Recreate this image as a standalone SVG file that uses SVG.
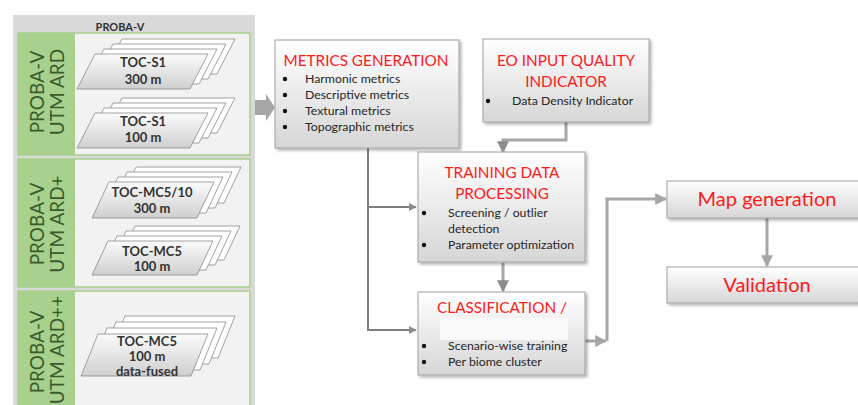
<svg xmlns="http://www.w3.org/2000/svg" width="858" height="405" viewBox="0 0 858 405">
<defs>
  <linearGradient id="gBox" x1="0" y1="0" x2="0" y2="1">
    <stop offset="0" stop-color="#ffffff"/>
    <stop offset="1" stop-color="#d6d6d6"/>
  </linearGradient>
  <linearGradient id="gPar" x1="0" y1="0" x2="0" y2="1">
    <stop offset="0" stop-color="#fbfbfb"/>
    <stop offset="1" stop-color="#cfcfcf"/>
  </linearGradient>
  <filter id="sh" x="-10%" y="-10%" width="125%" height="130%">
    <feDropShadow dx="2" dy="2" stdDeviation="1.5" flood-color="#000" flood-opacity="0.3"/>
  </filter>
  <marker id="ah" viewBox="0 0 10 10" refX="9" refY="5" markerWidth="4" markerHeight="4" orient="auto" markerUnits="strokeWidth">
    <path d="M0,0 L10,5 L0,10 z" fill="#8c8c8c"/>
  </marker>
  <marker id="ahl" viewBox="0 0 10 10" refX="9" refY="5" markerWidth="4" markerHeight="4" orient="auto" markerUnits="strokeWidth">
    <path d="M0,0 L10,5 L0,10 z" fill="#a6a6a6"/>
  </marker>
</defs>
<style>
  .box { fill: url(#gBox); stroke: #a0a0a0; stroke-width: 1; filter: url(#sh); }
  .title { font-family: Lato, "Liberation Sans", sans-serif; font-size: 15.3px; fill: #ff1a1a; text-anchor: middle; }
  .big { font-family: Lato, "Liberation Sans", sans-serif; font-size: 20px; fill: #ff1a1a; text-anchor: middle; }
  .bul { font-family: Lato, "Liberation Sans", sans-serif; font-size: 12.3px; fill: #262626; }
  .dot { fill: #111; }
  .par { fill: #ffffff; stroke: #8a8a8a; stroke-width: 0.8; }
  .parf { fill: url(#gPar); stroke: #8a8a8a; stroke-width: 0.8; }
  .pt { font-family: Lato, "Liberation Sans", sans-serif; font-size: 13px; font-weight: bold; fill: #333333; text-anchor: middle; }
  .side { font-family: Lato, "Liberation Sans", sans-serif; font-size: 19px; fill: #3a5a2c; text-anchor: middle; }
  .con { fill: none; stroke: #a6a6a6; stroke-width: 3; }
  .cond { fill: none; stroke: #7f7f7f; stroke-width: 2; }
</style>

<!-- Left panel -->
<g id="proba-v-panel">
  <rect x="13" y="15" width="242" height="392" fill="#d9d9d9"/>
  <text x="120" y="31" font-family="Lato, 'Liberation Sans', sans-serif" font-size="11" font-weight="bold" fill="#333" text-anchor="middle">PROBA-V</text>
</g>

<g id="section-ard">
  <rect x="18" y="33" width="232" height="122" fill="#f2f2f2" stroke="#a9d18e" stroke-width="1.5"/>
  <rect x="18" y="33" width="57" height="122" fill="#a9d18e"/>
  <text class="side" transform="translate(44,92) rotate(-90)">PROBA-V</text>
  <text class="side" transform="translate(64,92) rotate(-90)">UTM ARD</text>
  <g id="toc-s1-300">
    <path class="par" d="M122,39 h113 l-18,35 h-113 z"/>
    <path class="par" d="M113,44 h113 l-18,35 h-113 z"/>
    <path class="par" d="M104,49 h113 l-18,35 h-113 z"/>
    <path class="parf" d="M95,54 h113 l-18,35 h-113 z"/>
    <text class="pt" x="143" y="67">TOC-S1</text>
    <text class="pt" x="143" y="84">300 m</text>
  </g>
  <g id="toc-s1-100">
    <path class="par" d="M122,98 h113 l-18,35 h-113 z"/>
    <path class="par" d="M113,103 h113 l-18,35 h-113 z"/>
    <path class="par" d="M104,108 h113 l-18,35 h-113 z"/>
    <path class="parf" d="M95,113 h113 l-18,35 h-113 z"/>
    <text class="pt" x="143" y="126">TOC-S1</text>
    <text class="pt" x="143" y="142">100 m</text>
  </g>
</g>

<g id="section-ardplus">
  <rect x="18" y="159" width="232" height="128" fill="#f2f2f2" stroke="#a9d18e" stroke-width="1.5"/>
  <rect x="18" y="159" width="57" height="128" fill="#a9d18e"/>
  <text class="side" transform="translate(44,224) rotate(-90)">PROBA-V</text>
  <text class="side" transform="translate(64,224) rotate(-90)">UTM ARD+</text>
  <g id="toc-mc5-10-300">
    <path class="par" d="M136,167 h105 l-17,36 h-105 z"/>
    <path class="par" d="M127,172 h105 l-17,36 h-105 z"/>
    <path class="par" d="M118,177 h105 l-17,36 h-105 z"/>
    <path class="parf" d="M109,182 h105 l-17,36 h-105 z"/>
    <text class="pt" x="152" y="197">TOC-MC5/10</text>
    <text class="pt" x="152" y="213">300 m</text>
  </g>
  <g id="toc-mc5-100">
    <path class="par" d="M135,226 h105 l-16,34 h-105 z"/>
    <path class="par" d="M126,231 h105 l-16,34 h-105 z"/>
    <path class="par" d="M117,236 h105 l-16,34 h-105 z"/>
    <path class="parf" d="M108,241 h105 l-16,34 h-105 z"/>
    <text class="pt" x="152" y="256">TOC-MC5</text>
    <text class="pt" x="152" y="271">100 m</text>
  </g>
</g>

<g id="section-ardplusplus">
  <rect x="18" y="291" width="232" height="120" fill="#f2f2f2" stroke="#a9d18e" stroke-width="1.5"/>
  <rect x="18" y="291" width="57" height="120" fill="#a9d18e"/>
  <text class="side" transform="translate(44,352) rotate(-90)">PROBA-V</text>
  <text class="side" transform="translate(64,350) rotate(-90)">UTM ARD++</text>
  <g id="toc-mc5-fused">
    <path class="par" d="M125,316 h110 l-17,42 h-110 z"/>
    <path class="par" d="M116,322 h110 l-17,42 h-110 z"/>
    <path class="par" d="M107,328 h110 l-17,42 h-110 z"/>
    <path class="parf" d="M98,334 h110 l-17,42 h-110 z"/>
    <text class="pt" x="147" y="346">TOC-MC5</text>
    <text class="pt" x="147" y="361">100 m</text>
    <text class="pt" x="147" y="376">data-fused</text>
  </g>
</g>

<!-- Connectors -->
<g id="connectors">
  <path d="M255,100 H266 V94 L275,107.5 L266,121 V115 H255 z" fill="#a6a6a6"/>
  <path class="cond" d="M368,148 V330 H416" marker-end="url(#ah)"/>
  <path class="cond" d="M368,207 H416" marker-end="url(#ah)"/>
  <path class="con" d="M566,122 V140 H503 V152" marker-end="url(#ah)"/>
  <path class="con" d="M503,263 V291" marker-end="url(#ah)"/>
  <path class="con" d="M585,341 H606" marker-end="url(#ahl)"/>
  <path class="con" d="M607,341 V199 H666" marker-end="url(#ahl)"/>
  <path class="con" d="M767,218 V266" marker-end="url(#ahl)"/>
</g>

<!-- Process boxes -->
<g id="metrics-generation">
  <rect class="box" x="275" y="40" width="184" height="108"/>
  <text class="title" x="366" y="66">METRICS GENERATION</text>
  <circle class="dot" cx="285" cy="79" r="2.2"/><text class="bul" x="305" y="83">Harmonic metrics</text>
  <circle class="dot" cx="285" cy="95" r="2.2"/><text class="bul" x="305" y="99">Descriptive metrics</text>
  <circle class="dot" cx="285" cy="111" r="2.2"/><text class="bul" x="305" y="115">Textural metrics</text>
  <circle class="dot" cx="285" cy="127" r="2.2"/><text class="bul" x="305" y="131">Topographic metrics</text>
</g>

<g id="eo-input-quality">
  <rect class="box" x="483" y="39" width="166" height="83"/>
  <text class="title" x="566" y="66">EO INPUT QUALITY</text>
  <text class="title" x="566" y="87">INDICATOR</text>
  <circle class="dot" cx="488" cy="101" r="2.2"/><text class="bul" x="512" y="105">Data Density Indicator</text>
</g>

<g id="training-data-processing">
  <rect class="box" x="418" y="152" width="167" height="110"/>
  <text class="title" x="502" y="178">TRAINING DATA</text>
  <text class="title" x="502" y="199">PROCESSING</text>
  <circle class="dot" cx="424" cy="213" r="2.2"/><text class="bul" x="448" y="217">Screening / outlier</text>
  <text class="bul" x="448" y="233">detection</text>
  <circle class="dot" cx="424" cy="245" r="2.2"/><text class="bul" x="448" y="249">Parameter optimization</text>
</g>

<g id="classification">
  <rect class="box" x="418" y="292" width="167" height="83"/>
  <text class="title" x="502" y="313">CLASSIFICATION /</text>
  <rect x="440" y="318" width="128" height="22" fill="#fafafa"/>
  <circle class="dot" cx="424" cy="346" r="2.2"/><text class="bul" x="448" y="350">Scenario-wise training</text>
  <circle class="dot" cx="424" cy="362" r="2.2"/><text class="bul" x="448" y="366">Per biome cluster</text>
</g>

<g id="map-generation">
  <rect class="box" x="667" y="181" width="200" height="37"/>
  <text class="big" x="767" y="206">Map generation</text>
</g>

<g id="validation">
  <rect class="box" x="667" y="267" width="200" height="36"/>
  <text class="big" x="767" y="292">Validation</text>
</g>
</svg>
